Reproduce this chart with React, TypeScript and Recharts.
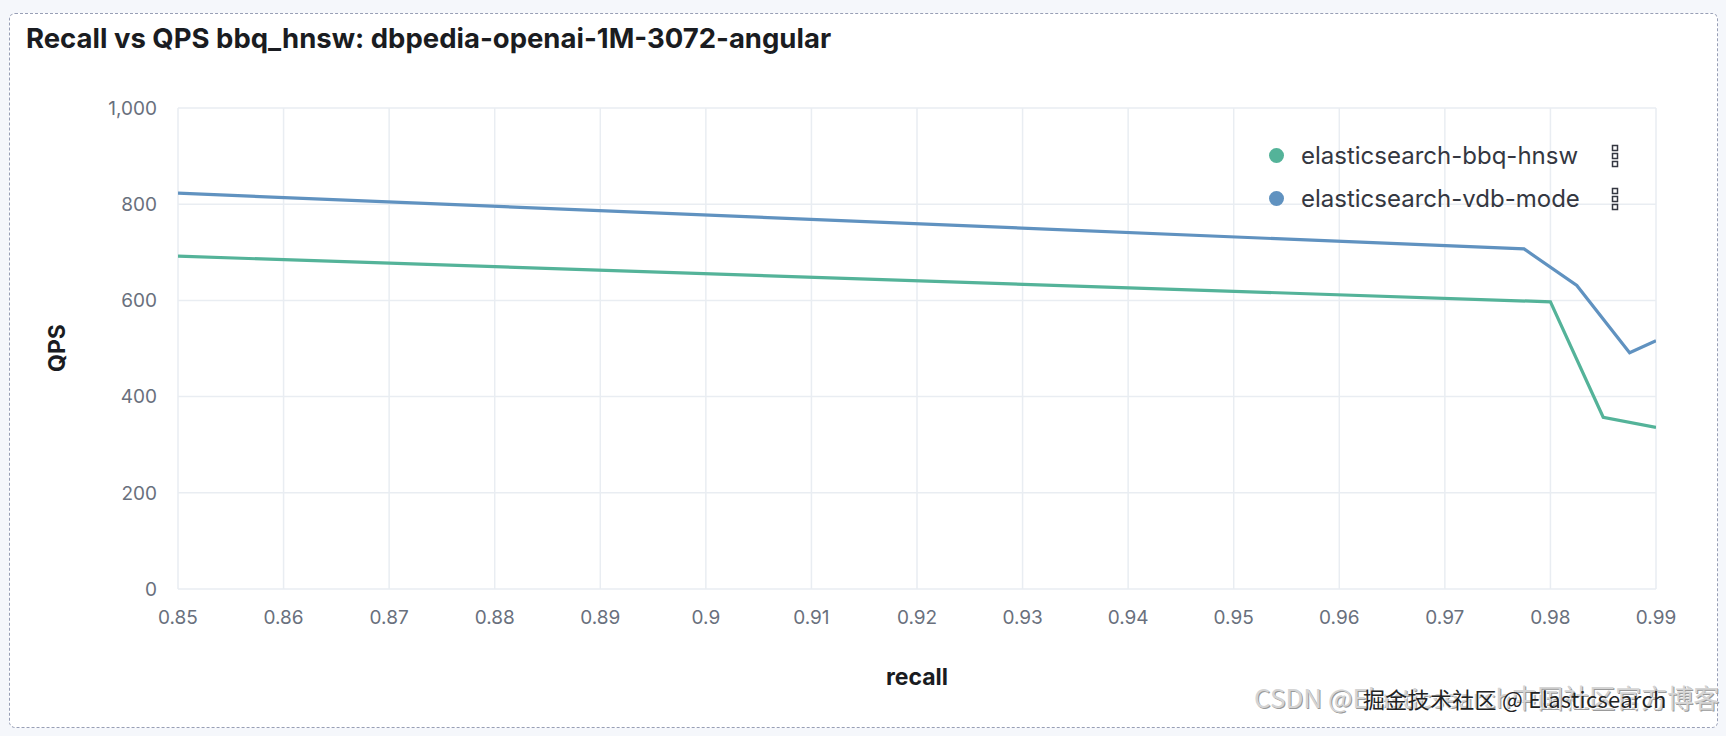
import { CartesianGrid, Legend, Line, LineChart, XAxis, YAxis } from "recharts";

const title = "Recall vs QPS bbq_hnsw: dbpedia-openai-1M-3072-angular";

const bbqRecall = [0.85, 0.98, 0.985, 0.99];
const bbqQps = [692, 597, 357, 336];

const vdbRecall = [0.85, 0.9775, 0.9825, 0.9875, 0.99];
const vdbQps = [823, 707, 631, 491, 516];

const xTicks = [0.85, 0.86, 0.87, 0.88, 0.89, 0.9, 0.91, 0.92, 0.93, 0.94, 0.95, 0.96, 0.97, 0.98, 0.99];
const yTicks = [0, 200, 400, 600, 800, 1000];

const bbqData = bbqRecall.map((r, i) => ({ recall: r, qps: bbqQps[i] }));
const vdbData = vdbRecall.map((r, i) => ({ recall: r, qps: vdbQps[i] }));

const font = "Inter, 'Noto Sans', sans-serif";
const tickStyle = { fontSize: 19, fill: "#69707d", fontFamily: font };

const DotsIcon = () => (
  <svg width="8" height="24" viewBox="0 0 8 24" style={{ marginLeft: 30 }}>
    {[1, 9, 17].map((y) => (
      <rect key={y} x="1.5" y={y + 0.5} width="5" height="5" fill="none" stroke="#343741" strokeWidth="1.5" />
    ))}
  </svg>
);

const LegendContent = (props: any) => (
  <div style={{ fontFamily: font }}>
    {props.payload.map((p: any) => (
      <div key={p.value} style={{ display: "flex", alignItems: "center", height: 43 }}>
        <span style={{ width: 15, height: 15, borderRadius: "50%", background: p.color, display: "inline-block" }} />
        <span style={{ fontSize: 24, color: "#343741", marginLeft: 17, width: 280, whiteSpace: "nowrap" }}>{p.value}</span>
        <DotsIcon />
      </div>
    ))}
  </div>
);

const App = () => {
  return (
    <div style={{ position: "fixed", left: 0, top: 0, width: 1726, height: 736, background: "#f5f7fb" }}>
      <div
        style={{
          position: "absolute",
          left: 9,
          top: 13,
          width: 1709,
          height: 715,
          boxSizing: "border-box",
          border: "1.5px dashed #989fb6",
          borderRadius: 6,
          background: "#fff",
        }}
      />
      <div
        style={{
          position: "absolute",
          left: 26,
          top: 21,
          fontFamily: font,
          fontWeight: 700,
          fontSize: 27.5,
          color: "#1a1c21",
          whiteSpace: "nowrap",
        }}
      >
        {title}
      </div>
      <div style={{ position: "absolute", left: 0, top: 0 }}>
        <LineChart width={1726} height={736} margin={{ top: 108, right: 70, bottom: 87, left: 118 }}>
          <CartesianGrid stroke="#e9edf2" strokeWidth={1.5} />
          <XAxis
            type="number"
            dataKey="recall"
            domain={[0.85, 0.99]}
            ticks={xTicks}
            allowDataOverflow
            axisLine={false}
            tickLine={false}
            tickSize={0}
            tickMargin={22}
            height={60}
            tick={tickStyle}
          />
          <YAxis
            type="number"
            dataKey="qps"
            domain={[0, 1000]}
            ticks={yTicks}
            axisLine={false}
            tickLine={false}
            tickSize={0}
            tickMargin={21}
            width={60}
            tick={tickStyle}
            tickFormatter={(v: number) => v.toLocaleString("en-US")}
          />
          <Legend
            layout="vertical"
            verticalAlign="middle"
            align="center"
            content={LegendContent}
            wrapperStyle={{ left: 1269, top: 134, width: 360 }}
          />
          <Line
            data={bbqData}
            dataKey="qps"
            name="elasticsearch-bbq-hnsw"
            type="linear"
            stroke="#54b399"
            strokeWidth={3.2}
            dot={false}
            isAnimationActive={false}
          />
          <Line
            data={vdbData}
            dataKey="qps"
            name="elasticsearch-vdb-mode"
            type="linear"
            stroke="#6092c0"
            strokeWidth={3.2}
            dot={false}
            isAnimationActive={false}
          />
        </LineChart>
      </div>
      <div
        style={{
          position: "absolute",
          left: 57,
          top: 348,
          transform: "translate(-50%, -50%) rotate(-90deg)",
          fontFamily: font,
          fontWeight: 700,
          fontSize: 23,
          color: "#1a1c21",
        }}
      >
        QPS
      </div>
      <div
        style={{
          position: "absolute",
          left: 917,
          top: 677,
          transform: "translate(-50%, -50%)",
          fontFamily: font,
          fontWeight: 700,
          fontSize: 23,
          color: "#1a1c21",
        }}
      >
        recall
      </div>
      <div
        style={{
          position: "absolute",
          left: 1254,
          top: 678,
          fontFamily: "'Noto Sans CJK SC', sans-serif",
          fontSize: 26,
          color: "#d4d4d4",
          whiteSpace: "nowrap",
          textShadow: "1px 1px 0 #999",
        }}
      >
        CSDN @Elasticsearch中国社区官方博客
      </div>
      <div
        style={{
          position: "absolute",
          left: 1363,
          top: 682,
          fontFamily: "'Noto Sans CJK SC', sans-serif",
          fontSize: 22,
          color: "#222",
          whiteSpace: "nowrap",
          letterSpacing: 0.3,
          textShadow: "1px 1px 0 #fff",
        }}
      >
        掘金技术社区 @ Elasticsearch
      </div>
    </div>
  );
};

export default App;
